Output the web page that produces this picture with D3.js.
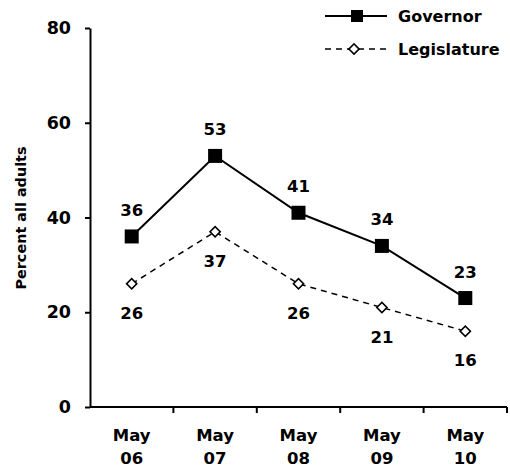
<!DOCTYPE html>
<html>
<head>
<meta charset="utf-8">
<script src="https://cdn.jsdelivr.net/npm/d3@7"></script>
<style>
  body { margin: 0; background: #fff; }
  text { font-family: "DejaVu Sans", sans-serif; font-weight: bold; fill: #000; }
</style>
</head>
<body>
<svg id="chart"></svg>
<script>
const categories = ["May 06", "May 07", "May 08", "May 09", "May 10"];
const governor = [36, 53, 41, 34, 23];
const legislature = [26, 37, 26, 21, 16];
const yTicks = [0, 20, 40, 60, 80];

const WIDTH = 510, HEIGHT = 468;
const PADDING = { LEFT: 90, RIGHT: 3, TOP: 28, BOTTOM: 61 };

let svg = d3.select("#chart").attr("width", WIDTH).attr("height", HEIGHT);

let xScale = d3.scaleBand()
  .domain(categories)
  .range([PADDING.LEFT, WIDTH - PADDING.RIGHT]);
let yScale = d3.scaleLinear()
  .domain([0, 80])
  .range([HEIGHT - PADDING.BOTTOM, PADDING.TOP]);

const cx = d => xScale(d) + xScale.bandwidth() / 2;

// y axis
let yAxis = svg.append("g")
  .attr("transform", `translate(${PADDING.LEFT},0)`)
  .call(d3.axisLeft(yScale).tickValues(yTicks).tickSize(5).tickSizeOuter(0).tickPadding(14));
yAxis.select(".domain").attr("stroke-width", 2);
yAxis.selectAll(".tick line").attr("stroke-width", 2);
yAxis.selectAll(".tick text")
  .style("font-family", "DejaVu Sans, sans-serif")
  .style("font-weight", "bold")
  .style("font-size", "17.5px");

// x axis: ticks at band edges
let xAxisG = svg.append("g")
  .attr("transform", `translate(0,${yScale(0)})`);
xAxisG.append("line")
  .attr("x1", PADDING.LEFT).attr("x2", WIDTH - PADDING.RIGHT)
  .attr("stroke", "#000").attr("stroke-width", 2);
let edges = categories.map(c => xScale(c)).concat([xScale(categories[categories.length - 1]) + xScale.bandwidth()]);
xAxisG.selectAll(".xt")
  .data(edges.slice(1))
  .enter().append("line")
    .attr("x1", d => d).attr("x2", d => d)
    .attr("y1", 0).attr("y2", 6)
    .attr("stroke", "#000").attr("stroke-width", 2);
let xl = xAxisG.selectAll(".xl")
  .data(categories)
  .enter().append("text")
    .attr("x", cx)
    .attr("y", 33.5)
    .attr("text-anchor", "middle")
    .style("font-size", "16.5px");
xl.append("tspan").attr("x", cx).text(d => d.split(" ")[0]);
xl.append("tspan").attr("x", cx).attr("dy", 23).text(d => d.split(" ")[1]);

// y axis title
svg.append("text")
  .attr("transform", "translate(26,218) rotate(-90)")
  .attr("text-anchor", "middle")
  .style("font-size", "14.4px")
  .text("Percent all adults");

// lines
let line = d3.line().x((d, i) => cx(categories[i])).y(d => yScale(d));

svg.append("path")
  .datum(legislature)
  .attr("d", line)
  .attr("fill", "none").attr("stroke", "#000").attr("stroke-width", 1.5)
  .attr("stroke-dasharray", "6,5");
svg.append("path")
  .datum(governor)
  .attr("d", line)
  .attr("fill", "none").attr("stroke", "#000").attr("stroke-width", 2);

// markers
let diamond = d3.symbol().type(d3.symbolSquare).size(52);
svg.selectAll(".leg")
  .data(legislature)
  .enter().append("path")
    .attr("d", diamond)
    .attr("transform", (d, i) => `translate(${cx(categories[i])},${yScale(d)}) rotate(45)`)
    .attr("fill", "#fff").attr("stroke", "#000").attr("stroke-width", 1.6);
svg.selectAll(".gov")
  .data(governor)
  .enter().append("rect")
    .attr("x", (d, i) => cx(categories[i]) - 7)
    .attr("y", d => yScale(d) - 7)
    .attr("width", 14).attr("height", 14)
    .attr("fill", "#000");

// data labels
svg.selectAll(".govl")
  .data(governor)
  .enter().append("text")
    .attr("x", (d, i) => cx(categories[i]))
    .attr("y", d => yScale(d) - 20.5)
    .attr("text-anchor", "middle")
    .style("font-size", "16.5px")
    .text(d => d);
svg.selectAll(".legl")
  .data(legislature)
  .enter().append("text")
    .attr("x", (d, i) => cx(categories[i]))
    .attr("y", d => yScale(d) + 35)
    .attr("text-anchor", "middle")
    .style("font-size", "16.5px")
    .text(d => d);

// legend
let legend = svg.append("g");
legend.append("line").attr("x1", 325).attr("x2", 387).attr("y1", 16).attr("y2", 16)
  .attr("stroke", "#000").attr("stroke-width", 2);
legend.append("rect").attr("x", 351).attr("y", 10).attr("width", 12).attr("height", 12).attr("fill", "#000");
legend.append("text").attr("x", 398).attr("y", 22).style("font-size", "16px").text("Governor");
legend.append("line").attr("x1", 325).attr("x2", 387).attr("y1", 49).attr("y2", 49)
  .attr("stroke", "#000").attr("stroke-width", 1.5).attr("stroke-dasharray", "6,5");
legend.append("path").attr("d", diamond)
  .attr("transform", "translate(354,49) rotate(45)")
  .attr("fill", "#fff").attr("stroke", "#000").attr("stroke-width", 1.6);
legend.append("text").attr("x", 398).attr("y", 55).style("font-size", "16px").text("Legislature");
</script>
</body>
</html>
